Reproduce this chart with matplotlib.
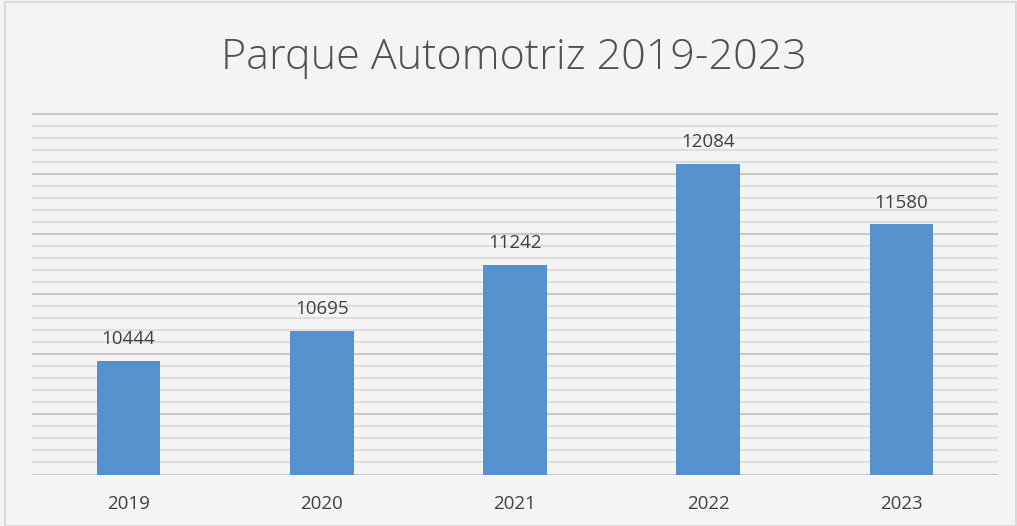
import numpy as np
from matplotlib import pyplot as plt
from matplotlib.ticker import MultipleLocator

years = ["2019", "2020", "2021", "2022", "2023"]
values = [10444, 10695, 11242, 12084, 11580]

fig = plt.figure(figsize=(10.17, 5.26), dpi=100)
fig.patch.set_facecolor("#f4f4f4")
ax = fig.add_axes([32 / 1017, 51.5 / 526, 966 / 1017, 361 / 526])
ax.set_facecolor("none")

x = np.arange(len(years))
bars = ax.bar(x, values, width=0.33, color="#5592cd", zorder=3)

ax.set_ylim(9500, 12500)
ax.set_xlim(-0.5, len(years) - 0.5)
ax.yaxis.set_major_locator(MultipleLocator(500))
ax.yaxis.set_minor_locator(MultipleLocator(100))
ax.grid(axis="y", which="major", color="#c9c9c9", linewidth=1.5, zorder=0)
ax.grid(axis="y", which="minor", color="#dedede", linewidth=1.5, zorder=0)
ax.tick_params(axis="y", which="both", left=False, labelleft=False)
ax.tick_params(axis="x", length=0, pad=15, labelsize=13.5, labelcolor="#404040")
ax.set_xticks(x)
ax.set_xticklabels(years, family="Open Sans")
for s in ax.spines.values():
    s.set_visible(False)

for b, v in zip(bars, values):
    ax.annotate(str(v), (b.get_x() + b.get_width() / 2, v), xytext=(0, 9),
                textcoords="offset points", ha="center", va="bottom",
                fontsize=13.5, color="#404040", family="Open Sans")

fig.text(0.505, 0.89, "Parque Automotriz 2019-2023", ha="center", va="center",
         fontsize=31, color="#505050", family="Open Sans", fontweight="light")

# outer frame
fig.add_artist(plt.Rectangle((5 / 1017, 0), 1 - 6 / 1017, 1 - 2 / 526, transform=fig.transFigure,
                             fill=False, edgecolor="#d6d6d6", linewidth=1.2))

plt.savefig("out.png", dpi=100, facecolor=fig.get_facecolor())
